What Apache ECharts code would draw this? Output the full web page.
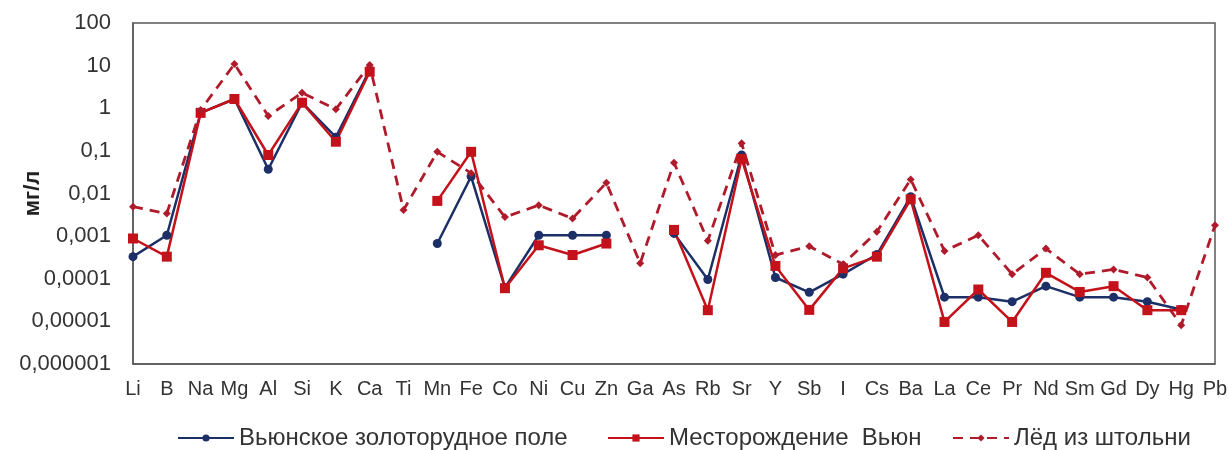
<!DOCTYPE html>
<html>
<head>
<meta charset="utf-8">
<script src="https://cdn.jsdelivr.net/npm/echarts@6/dist/echarts.min.js"></script>
<style>
  html, body { margin: 0; padding: 0; background: #fff; }
  #chart { width: 1229px; height: 450px; }
</style>
</head>
<body>
<div id="chart"></div>
<script>
// элементы по оси X
const elements = ['Li', 'B', 'Na', 'Mg', 'Al', 'Si', 'K', 'Ca', 'Ti', 'Mn', 'Fe', 'Co', 'Ni', 'Cu', 'Zn', 'Ga',
  'As', 'Rb', 'Sr', 'Y', 'Sb', 'I', 'Cs', 'Ba', 'La', 'Ce', 'Pr', 'Nd', 'Sm', 'Gd', 'Dy', 'Hg', 'Pb'];

// Вьюнское золоторудное поле, мг/л
const fieldValues = [0.00033, 0.00105, 0.78, 1.65, 0.037, 1.35, 0.21, 7.9, null, 0.00067, 0.025, 0.000062,
  0.00105, 0.00105, 0.00105, null, 0.00116, 0.000096, 0.08, 0.000107, 0.000048, 0.000128, 0.00037, 0.0084,
  0.000037, 0.000037, 0.000029, 0.000067, 0.000037, 0.000037, 0.000029, 0.000019, null];

// Месторождение Вьюн, мг/л
const depositValues = [0.00088, 0.00033, 0.78, 1.65, 0.08, 1.35, 0.164, 7.2, null, 0.0067, 0.095, 0.00006,
  0.00061, 0.00036, 0.00067, null, 0.0014, 0.0000183, 0.065, 0.0002, 0.0000186, 0.000175, 0.00033, 0.0073,
  0.0000097, 0.000056, 0.0000097, 0.000138, 0.000049, 0.000067, 0.0000183, 0.0000183, null];

// Лёд из штольни, мг/л
const iceValues = [0.0049, 0.0034, 0.91, 10.9, 0.66, 2.3, 0.95, 10.3, 0.0041, 0.095, 0.03, 0.0028,
  0.0053, 0.0026, 0.0178, 0.00023, 0.053, 0.00078, 0.15, 0.00036, 0.00058, 0.00022, 0.00126, 0.0214,
  0.00045, 0.00105, 0.000128, 0.00051, 0.000128, 0.000165, 0.000107, 0.0000081, 0.0018];

// подписи логарифмической оси, от 10^-6 до 10^2
const yTickLabels = ['0,000001', '0,00001', '0,0001', '0,001', '0,01', '0,1', '1', '10', '100'];

const seriesNames = ['Вьюнское золоторудное поле', 'Месторождение  Вьюн', 'Лёд из штольни'];

const navy = '#1c2f66';
const red = '#c4121b';
const darkRed = '#b01b2b';
const font = 'Liberation Sans, Arial, sans-serif';

// одна легенда на серию, чтобы поставить каждую как в оригинале
const legendLefts = [177, 607, 952];
const legends = seriesNames.map((name, i) => ({
  left: legendLefts[i], top: 426,
  padding: 0,
  itemWidth: 56, itemHeight: 9,
  textStyle: { fontSize: 24, color: '#333', fontFamily: font },
  data: [name]
}));

const chart = echarts.init(document.getElementById('chart'));
chart.setOption({
  animation: false,
  textStyle: { fontFamily: font },
  grid: {
    left: 133, right: 14, top: 23, bottom: 86,
    containLabel: false,
    outerBoundsMode: 'none',
    show: true, borderColor: '#5a5a5a', borderWidth: 1.5
  },
  legend: legends,
  xAxis: {
    type: 'category',
    data: elements,
    boundaryGap: false,
    axisLine: { show: true, lineStyle: { color: '#5a5a5a', width: 1.5 } },
    axisTick: { show: false },
    axisLabel: { color: '#333', fontSize: 20, margin: 15, interval: 0 },
    splitLine: { show: false }
  },
  yAxis: {
    type: 'log',
    logBase: 10,
    min: 0.000001,
    max: 100,
    name: 'мг/л',
    nameLocation: 'middle',
    nameGap: 89,
    nameMoveOverlap: false,
    nameTextStyle: { fontSize: 22, fontWeight: 'bold', color: '#222' },
    axisLine: { show: true, lineStyle: { color: '#5a5a5a', width: 1.5 } },
    axisTick: { show: false },
    splitLine: { show: false },
    axisLabel: {
      color: '#333', fontSize: 22, margin: 22,
      formatter: (v) => yTickLabels[Math.round(Math.log10(v)) + 6]
    }
  },
  series: [
    {
      name: seriesNames[0],
      type: 'line',
      data: fieldValues,
      connectNulls: false,
      symbol: 'circle',
      symbolSize: 9,
      lineStyle: { color: navy, width: 2.5 },
      itemStyle: { color: navy }
    },
    {
      name: seriesNames[1],
      type: 'line',
      data: depositValues,
      connectNulls: false,
      symbol: 'rect',
      symbolSize: 10,
      lineStyle: { color: red, width: 2.5 },
      itemStyle: { color: red }
    },
    {
      name: seriesNames[2],
      type: 'line',
      data: iceValues,
      symbol: 'diamond',
      symbolSize: 8,
      lineStyle: { color: darkRed, width: 2.8, type: [10, 7] },
      itemStyle: { color: darkRed }
    }
  ]
});
</script>
</body>
</html>
